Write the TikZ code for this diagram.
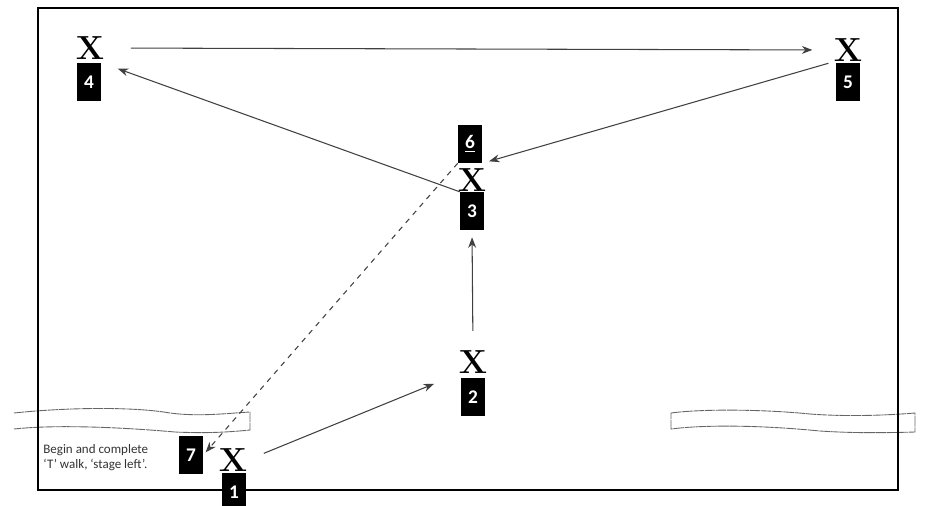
\documentclass[tikz,border=0pt]{standalone}
\usepackage{fontspec}
\newfontfamily\carlito{Carlito}
\usetikzlibrary{arrows.meta}

\tikzset{
  spot/.style={inner sep=0pt, font=\fontsize{19}{19}\selectfont\bfseries},
  numbox/.style={fill=black, text=white, inner sep=0pt, minimum width=13.6pt, minimum height=21.5pt, font=\carlito\fontsize{11}{11}\selectfont\bfseries},
  walk/.style={draw=black!75, line width=0.6pt, -{Stealth[length=6pt, width=4.5pt]}},
  strip/.style={draw=black!60, line width=0.5pt, dash pattern=on 6pt off 0.4pt}
}

\begin{document}
\begin{tikzpicture}[x=0.02cm, y=-0.02cm]
\useasboundingbox (0,0) rectangle (926,505);

% Edges of the stage
\draw [strip] (14,413) .. controls (60,408) and (130,406) .. (170,413) .. controls (200,417) and (230,413) .. (250,412) -- (250,430) .. controls (220,433) and (200,433) .. (175,432) .. controls (130,428) and (60,424) .. (14,429);
\draw [strip] (671,413) .. controls (700,409) and (760,409) .. (810,414) .. controls (850,417) and (890,415) .. (915,413) -- (915,432) .. controls (880,433) and (850,433) .. (820,431) .. controls (770,426) and (710,424) .. (671,429) -- cycle;

% Frame
\draw [line width=1.2pt] (38,8) rectangle (898,490);

% Spots
\node [spot] (x4) at (90,48) {X};
\node [numbox] (b4) at (89,82) {4};

\node [spot] (x5) at (848,50) {X};
\node [numbox] (b5) at (848,82) {5};

\node [numbox] (b6) at (470,144) {\underline{6}};
\node [spot] (x3) at (472,180) {X};
\node [numbox] (b3) at (472,211) {3};

\node [spot] (x2) at (473,362) {X};
\node [numbox] (b2) at (473,397) {2};

\node [spot] (x1) at (233,460) {X};
\node [numbox] (b1) at (234,492) {1};
\node [numbox] (b7) at (191,455) {7};

% Walk
\draw [walk, shorten <=15pt, shorten >=12pt] (x4.east) -- (x5.west);
\draw [walk, shorten <=3pt, shorten >=4pt] (x5.south west) -- (b6.south east);
\draw [walk, shorten >=10pt] (b3.north west) -- (b4.north east);
\draw [walk, shorten <=11pt, shorten >=4pt] (x2.north) -- (b3.south);
\draw [walk, shorten <=10pt, shorten >=15pt] (x1.east) -- (x2.south west);
\draw [walk, dashed, shorten >=2pt] (b6.south west) -- (b7.east);

\node [anchor=north west, align=left, text=black!80, font=\carlito\fontsize{7.4}{8.5}\selectfont, inner sep=0pt] (note) at (43,444) {Begin and complete\\‘T’ walk, ‘stage left’.};
\end{tikzpicture}
\end{document}
